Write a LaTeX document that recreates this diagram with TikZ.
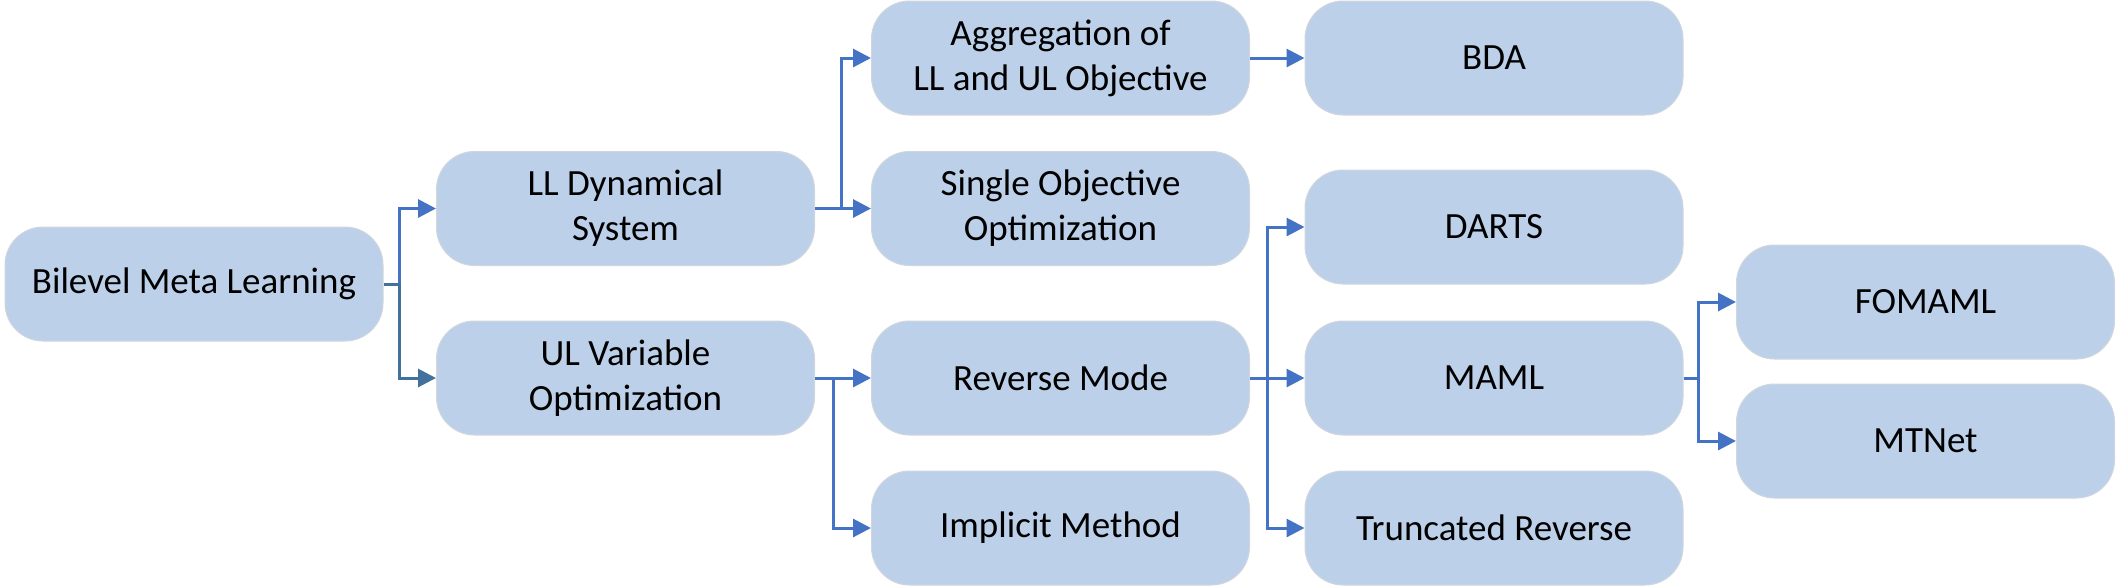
\documentclass[tikz,border=0pt]{standalone}
\usepackage{fontspec}
\setmainfont{Carlito}
\usetikzlibrary{arrows.meta}
\definecolor{boxfill}{RGB}{189,208,233}
\definecolor{boxline}{RGB}{208,214,222}
\definecolor{arrowblue}{RGB}{68,114,196}
\definecolor{arrowdark}{RGB}{65,113,156}
\tikzset{
  box/.style={draw=boxline, line width=0.5pt, fill=boxfill, rounded corners=19pt,
    minimum width=189pt, minimum height=57pt, inner sep=0pt, align=center,
    font=\fontsize{18.5}{22.5}\selectfont},
  conn/.style={draw=arrowblue, line width=1.5pt, -{Triangle[length=9pt,width=9pt]}},
  plain/.style={draw=arrowblue, line width=1.5pt}
}
\begin{document}
\begin{tikzpicture}[x=0.5pt,y=-0.5pt]
\useasboundingbox (0,0) rectangle (2119,586);
% column 1
\node[box] (bml) at (194,284) {Bilevel Meta Learning};
% column 2
\node[box] (ll) at (625.5,208.5) {LL Dynamical\\System};
\node[box] (ul) at (625.5,378) {UL Variable\\Optimization};
% column 3
\node[box] (agg) at (1060.5,58) {Aggregation of\\LL and UL Objective};
\node[box] (single) at (1060.5,208.5) {Single Objective\\Optimization};
\node[box] (rev) at (1060.5,378) {Reverse Mode};
\node[box] (impl) at (1060.5,528) {Implicit Method};
% column 4
\node[box] (bda) at (1494,58) {BDA};
\node[box] (darts) at (1494,227) {DARTS};
\node[box] (maml) at (1494,378) {MAML};
\node[box] (trunc) at (1494,528) {Truncated Reverse};
% column 5
\node[box] (fomaml) at (1925.5,302) {FOMAML};
\node[box] (mtnet) at (1925.5,441) {MTNet};
% connectors
\draw[conn] (bml.east) -- ++(16,0) |- (ll.west);
\draw[conn, draw=arrowdark] (bml.east) -- ++(16,0) |- (ul.west);
\draw[conn] (ll.east) -- (single.west);
\draw[conn] (ll.east) -- ++(26,0) |- (agg.west);
\draw[conn] (agg.east) -- (bda.west);
\draw[conn] (ul.east) -- (rev.west);
\draw[conn] (ul.east) -- ++(18,0) |- (impl.west);
\draw[conn] (rev.east) -- (maml.west);
\draw[conn] (rev.east) -- ++(17,0) |- (darts.west);
\draw[conn] (rev.east) -- ++(17,0) |- (trunc.west);
\draw[conn] (maml.east) -- ++(15,0) |- (fomaml.west);
\draw[conn] (maml.east) -- ++(15,0) |- (mtnet.west);
\end{tikzpicture}
\end{document}
